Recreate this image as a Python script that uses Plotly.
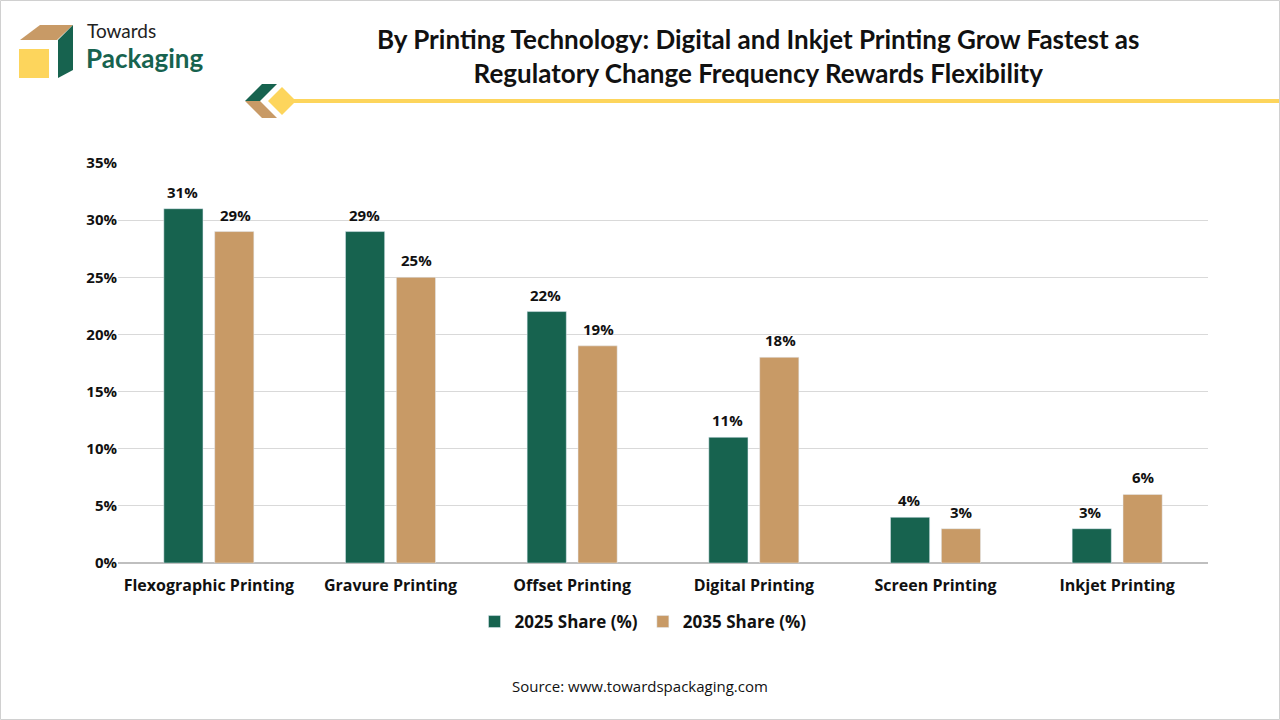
import plotly.graph_objects as go

categories = ["Flexographic Printing", "Gravure Printing", "Offset Printing", "Digital Printing", "Screen Printing", "Inkjet Printing"]
share_2025 = [31, 29, 22, 11, 4, 3]
share_2035 = [29, 25, 19, 18, 3, 6]
GREEN = "#17634F"
TAN = "#C89A66"
YEL = "#FDD55C"

L, R, T, B = 118, 72, 163, 157
W, H = 1280, 720
def px(x): return (x - L) / (W - L - R)
def py(y): return (H - B - y) / (H - T - B)
def path(pts):
    return "M " + " L ".join(f"{px(x)},{py(y)}" for x, y in pts) + " Z"

fig = go.Figure()
fig.add_bar(x=categories, y=share_2025, name="<b>2025 Share (%)</b>", marker_color=GREEN)
fig.add_bar(x=categories, y=share_2035, name="<b>2035 Share (%)</b>", marker_color=TAN)

shapes = [
    dict(type="path", path=path([(20,40),(40,25),(73,25),(57,40)]), fillcolor=TAN, line_width=0),
    dict(type="path", path=path([(58,40),(73,25),(73,70),(58,78)]), fillcolor=GREEN, line_width=0),
    dict(type="rect", x0=px(19), x1=px(49), y0=py(78), y1=py(49), fillcolor=YEL, line_width=0),
    dict(type="path", path=path([(245,101),(262,84),(277,84),(260,101)]), fillcolor=GREEN, line_width=0),
    dict(type="path", path=path([(245,101),(260,101),(277,118),(262,118)]), fillcolor=TAN, line_width=0),
    dict(type="path", path=path([(282,87),(296,101),(282,115),(268,101)]), fillcolor=YEL, line_width=0),
    dict(type="line", x0=px(290), x1=px(1280), y0=py(101), y1=py(101), line=dict(color=YEL, width=4)),
    dict(type="rect", x0=px(0.5), x1=px(1279.5), y0=py(719.5), y1=py(0.5), line=dict(color="#D0D0D0", width=1)),
]
for s in shapes:
    s["xref"] = "paper"; s["yref"] = "paper"; s["layer"] = "above"

anns = [
    dict(x=px(85), y=py(30), text="Towards", font=dict(size=19, color="#222", family="Lato, sans-serif"), xanchor="left", yanchor="middle"),
    dict(x=px(84), y=py(58), text="<b>Packaging</b>", font=dict(size=26, color=GREEN, family="Lato, sans-serif"), xanchor="left", yanchor="middle"),
    dict(x=px(758), y=py(56), text="<b>By Printing Technology: Digital and Inkjet Printing Grow Fastest as<br>Regulatory Change Frequency Rewards Flexibility</b>",
         font=dict(size=26, color="#111", family="Lato, sans-serif"), xanchor="center", yanchor="middle", align="center"),
    dict(x=px(640), y=py(686), text="Source: www.towardspackaging.com", font=dict(size=15, color="#111", family="Open Sans, sans-serif"),
         xanchor="center", yanchor="middle"),
]
for a in anns:
    a["xref"] = "paper"; a["yref"] = "paper"; a["showarrow"] = False

# value labels placed at data coordinates, offset by bar position within group
for vals, xs in ((share_2025, -0.145), (share_2035, 0.145)):
    for i, v in enumerate(vals):
        anns.append(dict(x=i + xs, y=v, xref="x", yref="y", text=f"<b>{v}%</b>", showarrow=False,
                         yanchor="bottom", yshift=5, font=dict(size=15, family="Open Sans, sans-serif", color="#111")))

fig.update_layout(
    width=W, height=H, margin=dict(l=L, r=R, t=T, b=B),
    paper_bgcolor="white", plot_bgcolor="white",
    font=dict(family="Open Sans, sans-serif", color="#111", size=15),
    barmode="group", bargap=0.44, bargroupgap=0.23,
    shapes=shapes, annotations=anns,
    legend=dict(orientation="h", x=px(643), xanchor="center", y=py(622), yanchor="middle",
                font=dict(size=17, family="Open Sans, sans-serif"), traceorder="normal"),
)
fig.update_yaxes(range=[0, 35], dtick=5, ticksuffix="%</b>", tickprefix="<b>", gridcolor="#D9D9D9",
                 zeroline=True, zerolinecolor="#BFBFBF", tickfont=dict(size=15, family="Open Sans, sans-serif"))
fig.update_xaxes(tickprefix="<b>", ticksuffix="</b>", tickfont=dict(size=16, family="Open Sans, sans-serif"),
                 showline=True, linecolor="#BFBFBF", ticks="outside", ticklen=8, tickcolor="white")
fig.write_html("out.html", config={"displayModeBar": False}, post_script="document.body.style.margin='0';")
